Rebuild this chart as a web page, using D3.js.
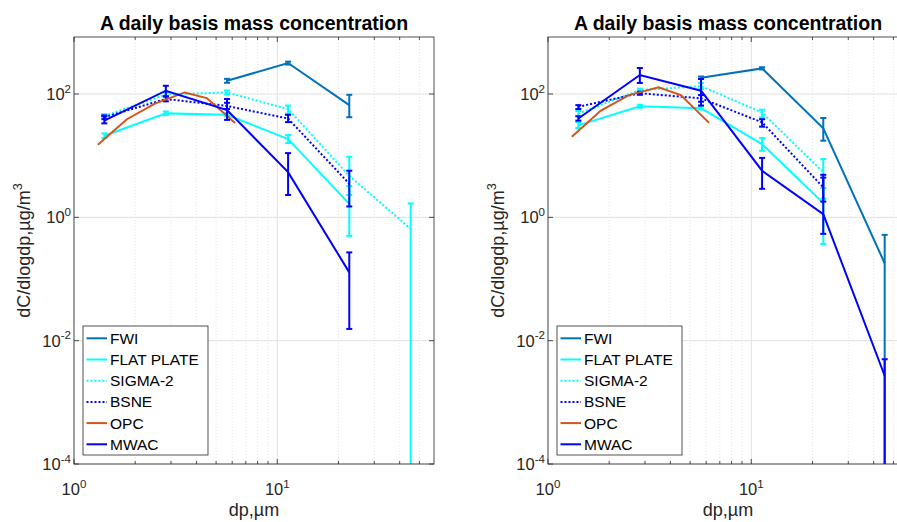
<!DOCTYPE html>
<html>
<head>
<meta charset="utf-8">
<script src="https://cdnjs.cloudflare.com/ajax/libs/d3/7.8.5/d3.min.js"></script>
<style>
body{margin:0;background:#fff;}
svg{display:block;font-family:"Liberation Sans",Arial,sans-serif;}
</style>
</head>
<body>
<div id="chart"></div>
<script>
// particle diameter bins (um)
var dp = [1.41, 2.83, 5.66, 11.3, 22.6, 45.3];
var dpOPC = [1.31, 1.82, 2.5, 3.5, 4.5, 6.2];
var seriesNames = ["FWI", "FLAT PLATE", "SIGMA-2", "BSNE", "OPC", "MWAC"];

// [value, lower, upper]  (lower 0 -> bar runs off the bottom of the log axis)
var leftFWI   = [null, null, [164, 152, 176], [318, 300, 335], [66, 42, 97], null];
var leftFLAT  = [[21, 19.3, 23], [48.5, 45.7, 52], [46, 43.5, 49], [18.6, 16, 21.6], [1.65, 0.5, 3.2], null];
var leftSIGMA = [[44, 41, 47], [98, 90, 106], [106, 98, 114], [57, 48, 65], [4.7, 2.3, 9.6], [0.65, 0, 1.68]];
var leftBSNE  = [[42, 39, 45], [83, 76, 92], [64, 57, 72], [40, 35, 46], [3.5, 1.5, 5.7], null];
var leftOPC   = [15.1, 39, 70, 106, 86, 34];
var leftMWAC  = [[37, 33.4, 44], [113, 91, 136], [55, 38, 83], [5.4, 2.3, 11], [0.128, 0.0155, 0.27], null];

var rightFWI   = [null, null, [184, 176, 192], [260, 250, 272], [27.7, 17.5, 40.8], [0.18, 0, 0.52]];
var rightFLAT  = [[31, 28, 35], [63, 60, 67], [59, 56, 63], [15.4, 12, 19.3], [1.7, 0.37, 3.0], null];
var rightSIGMA = [[48, 44, 53], [116, 110, 122], [134, 120, 150], [50, 41.7, 55.6], [5.4, 2.0, 8.8], null];
var rightBSNE  = [[62, 57, 66], [103, 97, 109], [85, 75, 96], [34.7, 29.5, 39], [3.06, 1.8, 4.4], null];
var rightOPC   = [20.3, 54, 96, 128, 96, 34];
var rightMWAC  = [[40, 37, 43.5], [203, 151, 264], [113, 65, 175], [5.7, 2.9, 9.2], [1.13, 0.54, 4.9], [0.0027, 0, 0.005]];

var xTicks = [1, 10];
var xMinor = [2, 3, 4, 5, 6, 7, 8, 9, 20, 30, 40, 50];
var yTicks = [1e-4, 1e-2, 1, 1e2];

var styles = {
    "FWI":        {color: "#0072BD", dash: null},
    "FLAT PLATE": {color: "#00FFFF", dash: null},
    "SIGMA-2":    {color: "#00FFFF", dash: "2,2"},
    "BSNE":       {color: "#0000FF", dash: "2,2"},
    "OPC":        {color: "#D95319", dash: null},
    "MWAC":       {color: "#0000FF", dash: null}
};

var panels = [
    {x0: 74,  legendX: 83,  data: {"FWI": leftFWI, "FLAT PLATE": leftFLAT, "SIGMA-2": leftSIGMA, "BSNE": leftBSNE, "OPC": leftOPC, "MWAC": leftMWAC}},
    {x0: 548, legendX: 557, data: {"FWI": rightFWI, "FLAT PLATE": rightFLAT, "SIGMA-2": rightSIGMA, "BSNE": rightBSNE, "OPC": rightOPC, "MWAC": rightMWAC}}
];

var plotW = 360, plotTop = 37, plotBottom = 464;
var axisColor = "#262626";

var svg = d3.select("#chart").append("svg")
    .attr("width", 897)
    .attr("height", 522);

function supLabel(sel, base, sup, size){
    sel.append("tspan").text(base);
    sel.append("tspan").attr("dy", -size * 0.45).attr("font-size", size * 0.7).text(sup);
}

panels.forEach(function(p, k){
    var x = d3.scaleLog().domain([1, 59]).range([p.x0, p.x0 + plotW]);
    var y = d3.scaleLog().domain([1e-4, 840]).range([plotBottom, plotTop]);
    var g = svg.append("g");

    svg.append("clipPath").attr("id", "clip" + k)
        .append("rect").attr("x", p.x0).attr("y", plotTop).attr("width", plotW).attr("height", plotBottom - plotTop);

    //grid
    g.selectAll(".minor").data(xMinor).enter().append("line")
        .attr("x1", function(d){return x(d);}).attr("x2", function(d){return x(d);})
        .attr("y1", plotTop).attr("y2", plotBottom)
        .attr("stroke", "#d4d4d4").attr("stroke-width", 0.6).attr("stroke-dasharray", "1,2");
    g.selectAll(".gx").data(xTicks).enter().append("line")
        .attr("x1", function(d){return x(d);}).attr("x2", function(d){return x(d);})
        .attr("y1", plotTop).attr("y2", plotBottom)
        .attr("stroke", "#e0e0e0").attr("stroke-width", 1);
    g.selectAll(".gy").data(yTicks).enter().append("line")
        .attr("x1", p.x0).attr("x2", p.x0 + plotW)
        .attr("y1", function(d){return y(d);}).attr("y2", function(d){return y(d);})
        .attr("stroke", "#e0e0e0").attr("stroke-width", 1);

    //series
    var plot = g.append("g").attr("clip-path", "url(#clip" + k + ")");
    seriesNames.forEach(function(name){
        var st = styles[name];
        var vals = p.data[name];
        if(name === "OPC"){
            plot.append("path")
                .datum(vals)
                .attr("fill", "none").attr("stroke", st.color).attr("stroke-width", 2)
                .attr("d", d3.line().x(function(d, i){return x(dpOPC[i]);}).y(function(d){return y(d);}));
            return;
        }
        plot.append("path")
            .datum(vals)
            .attr("fill", "none").attr("stroke", st.color).attr("stroke-width", 2)
            .attr("stroke-dasharray", st.dash)
            .attr("d", d3.line()
                .defined(function(d){return d != null;})
                .x(function(d, i){return x(dp[i]);})
                .y(function(d){return y(d[0]);}));
        //error bars
        vals.forEach(function(d, i){
            if(!d) return;
            var cx = x(dp[i]);
            var yt = y(d[2]);
            var yb = d[1] > 0 ? y(d[1]) : plotBottom + 5;
            plot.append("line").attr("x1", cx).attr("x2", cx).attr("y1", yt).attr("y2", yb)
                .attr("stroke", st.color).attr("stroke-width", 2);
            plot.append("line").attr("x1", cx - 3).attr("x2", cx + 3).attr("y1", yt).attr("y2", yt)
                .attr("stroke", st.color).attr("stroke-width", 2);
            if(d[1] > 0){
                plot.append("line").attr("x1", cx - 3).attr("x2", cx + 3).attr("y1", yb).attr("y2", yb)
                    .attr("stroke", st.color).attr("stroke-width", 2);
            }
        });
    });

    //box + ticks
    g.append("rect").attr("x", p.x0).attr("y", plotTop).attr("width", plotW).attr("height", plotBottom - plotTop)
        .attr("fill", "none").attr("stroke", axisColor).attr("stroke-width", 0.8);
    xTicks.concat(xMinor).forEach(function(t){
        var len = xTicks.indexOf(t) >= 0 ? 5 : 3;
        g.append("line").attr("x1", x(t)).attr("x2", x(t)).attr("y1", plotBottom).attr("y2", plotBottom - len)
            .attr("stroke", axisColor).attr("stroke-width", 0.8);
        g.append("line").attr("x1", x(t)).attr("x2", x(t)).attr("y1", plotTop).attr("y2", plotTop + len)
            .attr("stroke", axisColor).attr("stroke-width", 0.8);
    });
    yTicks.forEach(function(t){
        g.append("line").attr("x1", p.x0).attr("x2", p.x0 + 5).attr("y1", y(t)).attr("y2", y(t))
            .attr("stroke", axisColor).attr("stroke-width", 0.8);
        g.append("line").attr("x1", p.x0 + plotW).attr("x2", p.x0 + plotW - 5).attr("y1", y(t)).attr("y2", y(t))
            .attr("stroke", axisColor).attr("stroke-width", 0.8);
    });

    //tick labels
    xTicks.forEach(function(t){
        var lab = g.append("text").attr("x", x(t)).attr("y", 495)
            .attr("text-anchor", "middle").attr("fill", axisColor).attr("font-size", 16.5);
        supLabel(lab, "10", String(Math.round(Math.log10(t))), 16.5);
    });
    yTicks.forEach(function(t){
        var lab = g.append("text").attr("x", p.x0 - 3).attr("y", y(t) + 6)
            .attr("text-anchor", "end").attr("fill", axisColor).attr("font-size", 16.5);
        supLabel(lab, "10", String(Math.round(Math.log10(t))), 16.5);
    });

    //axis titles
    var cx = p.x0 + 180;
    g.append("text").attr("x", cx).attr("y", 29.5).attr("text-anchor", "middle")
        .attr("font-weight", "bold").attr("font-size", 19.5).attr("fill", "#000")
        .text("A daily basis mass concentration");
    g.append("text").attr("x", cx).attr("y", 516).attr("text-anchor", "middle")
        .attr("font-size", 18).attr("fill", axisColor).text("dp,\u00b5m");
    var yl = g.append("text")
        .attr("transform", "translate(" + (p.x0 - 44) + "," + ((plotTop + plotBottom) / 2) + ") rotate(-90)")
        .attr("text-anchor", "middle").attr("font-size", 18).attr("fill", axisColor);
    supLabel(yl, "dC/dlogdp,\u00b5g/m", "3", 18);

    //legend
    var lg = g.append("g");
    lg.append("rect").attr("x", p.legendX).attr("y", 326).attr("width", 125).attr("height", 129)
        .attr("fill", "#fff").attr("stroke", axisColor).attr("stroke-width", 0.8);
    seriesNames.forEach(function(name, i){
        var ly = 338.3 + i * 21.2;
        lg.append("line").attr("x1", p.legendX + 3.5).attr("x2", p.legendX + 24)
            .attr("y1", ly).attr("y2", ly)
            .attr("stroke", styles[name].color).attr("stroke-width", 2)
            .attr("stroke-dasharray", styles[name].dash);
        lg.append("text").attr("x", p.legendX + 27).attr("y", ly + 5.5)
            .attr("font-size", 15.5).attr("fill", "#000").text(name);
    });
});
</script>
</body>
</html>
